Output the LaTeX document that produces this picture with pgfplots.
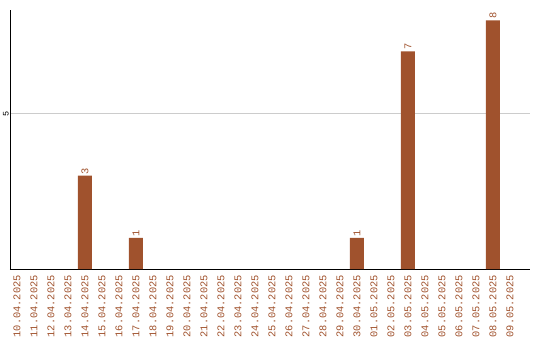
\documentclass[border=0pt]{standalone}
\usepackage{pgfplots}
\pgfplotsset{compat=1.18}
\usepackage{fontspec}
\setmainfont{Liberation Mono}
\definecolor{barbrown}{HTML}{A0522D}
\definecolor{gridgrey}{HTML}{CCCCCC}
\begin{document}
\begin{tikzpicture}
\begin{axis}[
  scale only axis,
  width=520bp, height=259bp,
  xmin=-0.41, xmax=30.18,
  ymin=0, ymax=8.33,
  axis lines=left,
  axis line style={-, black, line width=0.8pt},
  ytick={5},
  ymajorgrids,
  grid style={gridgrey, line width=0.6pt},
  major tick length=0pt,
  yticklabel style={rotate=90, anchor=south, font=\fontsize{8.5}{9}\selectfont, black, inner sep=1pt},
  xtick={0,...,29},
  xticklabels={10.04.2025,11.04.2025,12.04.2025,13.04.2025,14.04.2025,15.04.2025,16.04.2025,17.04.2025,18.04.2025,19.04.2025,20.04.2025,21.04.2025,22.04.2025,23.04.2025,24.04.2025,25.04.2025,26.04.2025,27.04.2025,28.04.2025,29.04.2025,30.04.2025,01.05.2025,02.05.2025,03.05.2025,04.05.2025,05.05.2025,06.05.2025,07.05.2025,08.05.2025,09.05.2025},
  xticklabel shift=6bp,
  xticklabel style={rotate=90, anchor=east, text=barbrown, font=\fontsize{10.4}{11}\selectfont, inner sep=0pt},
  /pgf/number format/assume math mode=true,
  clip=false,
]
\addplot[ybar, bar width=14bp, fill=barbrown, draw=none,
  nodes near coords,
  nodes near coords style={rotate=90, anchor=west, text=barbrown, font=\fontsize{10.4}{11}\selectfont, inner sep=1.5pt}]
  coordinates {(4,3) (7,1) (20,1) (23,7) (28,8)};
\end{axis}
\pgfresetboundingbox
\useasboundingbox (-10bp,-71bp) rectangle (530bp,269bp);
\end{tikzpicture}
\end{document}
